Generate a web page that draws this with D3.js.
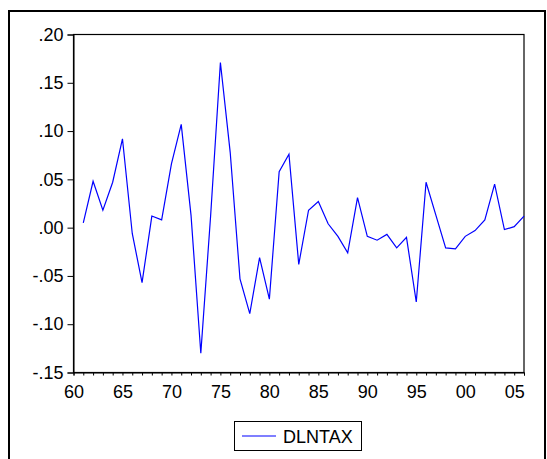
<!DOCTYPE html>
<html>
<head>
<meta charset="utf-8">
<script src="https://cdn.jsdelivr.net/npm/d3@7"></script>
<style>
  body { margin: 0; background: #fff; }
  text { font-family: "Liberation Sans", Arial, sans-serif; fill: #000; }
</style>
</head>
<body>
<script>
var w = 547;
var h = 459;

// yearly series 1961-2006
var years = d3.range(1961, 2007);
var dlntax = [0.005, 0.048, 0.018, 0.047, 0.092, -0.006, -0.057, 0.012, 0.008, 0.066,
              0.107, 0.013, -0.130, 0.012, 0.171, 0.078, -0.053, -0.089, -0.031, -0.074,
              0.058, 0.076, -0.038, 0.018, 0.027, 0.004, -0.009, -0.026, 0.031, -0.009,
              -0.013, -0.007, -0.021, -0.010, -0.077, 0.047, 0.013, -0.021, -0.022, -0.009,
              -0.003, 0.008, 0.045, -0.002, 0.001, 0.012];
var yTicks = [-0.15, -0.10, -0.05, 0.00, 0.05, 0.10, 0.15, 0.20];
var xTicks = [1960, 1965, 1970, 1975, 1980, 1985, 1990, 1995, 2000, 2005];
var seriesName = "DLNTAX";

var pLeft = 73.5, pRight = 524, pTop = 34.5, pBottom = 372.5;

var svg = d3.select("body").append("svg")
            .attr("width", w)
            .attr("height", h);

// outer frame
svg.append("rect")
   .attr("x", 9).attr("y", 11)
   .attr("width", 536).attr("height", 460)
   .attr("fill", "none")
   .attr("stroke", "#000")
   .attr("stroke-width", 2);

var x = d3.scaleLinear().domain([1960, 2006]).range([pLeft, pRight]);
var y = d3.scaleLinear().domain([-0.15, 0.20]).range([pBottom, pTop]);

// eviews style: ".05", "-.10"
var fmt = function(d){
  var s = d.toFixed(2);
  return s.replace("0.", ".");
};

// y axis
var yAxis = svg.append("g")
   .attr("transform", "translate(" + pLeft + ",0)")
   .call(d3.axisLeft(y).tickValues(yTicks).tickFormat(fmt).tickSize(6).tickPadding(4));
yAxis.selectAll("text").attr("font-size", "18px").style("font-family", "Liberation Sans, Arial, sans-serif");

// x axis, small tick every year
var xAxis = svg.append("g")
   .attr("transform", "translate(0," + pBottom + ")")
   .call(d3.axisBottom(x).tickValues(d3.range(1960, 2007)).tickSize(3)
           .tickFormat(function(d){ return xTicks.indexOf(d) >= 0 ? String(d).slice(2) : ""; })
           .tickPadding(10));
xAxis.selectAll("text").attr("font-size", "18px").style("font-family", "Liberation Sans, Arial, sans-serif");
svg.selectAll(".domain").attr("stroke", "#000");

// box around the plot
svg.append("rect")
   .attr("x", pLeft).attr("y", pTop)
   .attr("width", pRight - pLeft).attr("height", pBottom - pTop)
   .attr("fill", "none")
   .attr("stroke", "#000")
   .attr("stroke-width", 1.2);

var line = d3.line()
   .x(function(d, i){ return x(years[i]); })
   .y(function(d){ return y(d); });

svg.append("path")
   .datum(dlntax)
   .attr("d", line)
   .attr("fill", "none")
   .attr("stroke", "#0000ff")
   .attr("stroke-width", 1.2);

// legend
var lg = svg.append("g");
lg.append("rect")
  .attr("x", 234.5).attr("y", 421.5)
  .attr("width", 127).attr("height", 29)
  .attr("fill", "none").attr("stroke", "#000").attr("stroke-width", 1);
lg.append("line")
  .attr("x1", 242).attr("x2", 276).attr("y1", 436).attr("y2", 436)
  .attr("stroke", "#0000ff").attr("stroke-width", 1.2);
lg.append("text")
  .attr("x", 283).attr("y", 442.5)
  .attr("font-size", "18px")
  .text(seriesName);
</script>
</body>
</html>
